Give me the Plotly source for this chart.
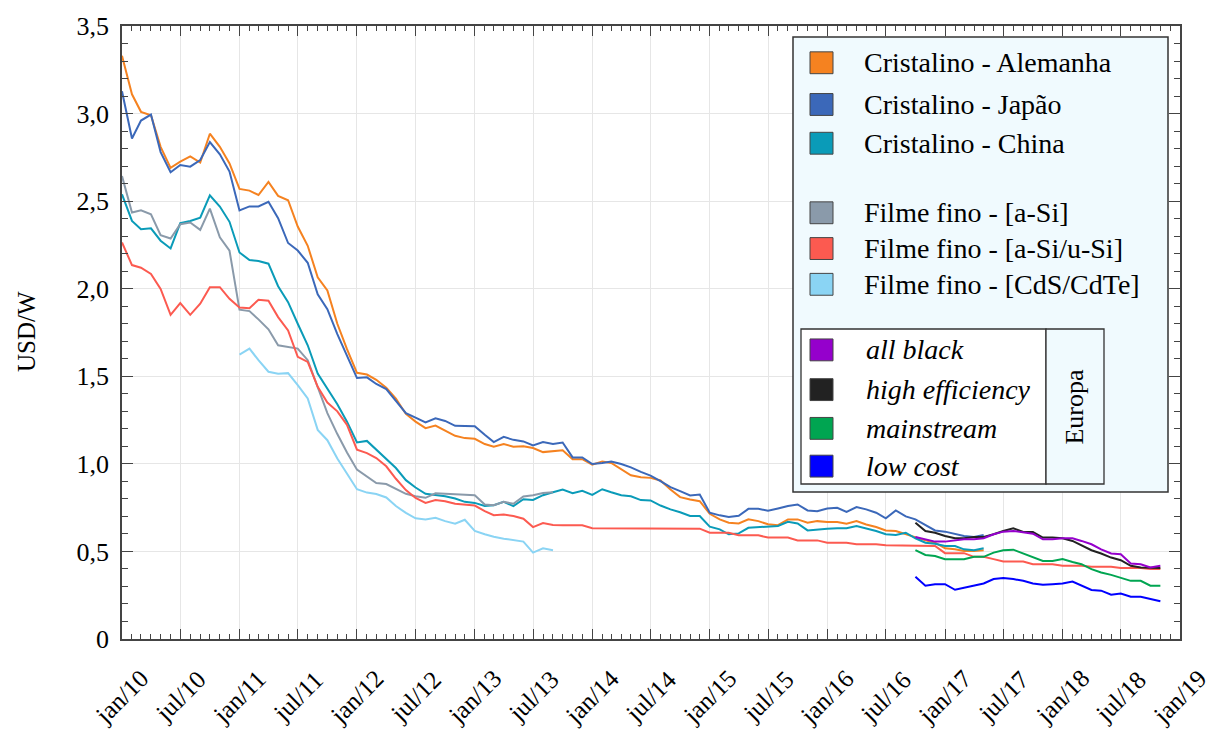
import pandas as pd
import plotly.graph_objects as go

# ---------------- data (USD/W, monthly) ----------------
start_crist = "2010-01-01"
alemanha = [3.33, 3.11, 3.01, 2.99, 2.81, 2.69, 2.725, 2.755, 2.72, 2.885, 2.81, 2.715,
            2.57, 2.56, 2.535, 2.61, 2.53, 2.505, 2.355, 2.245, 2.065, 1.99, 1.80, 1.655,
            1.52, 1.51, 1.48, 1.435, 1.372, 1.285, 1.241, 1.204, 1.219, 1.19, 1.16, 1.147,
            1.143, 1.113, 1.098, 1.113, 1.098, 1.10, 1.09, 1.067, 1.071, 1.077, 1.027, 1.027,
            0.995, 1.014, 1.005, 0.967, 0.935, 0.923, 0.92, 0.905, 0.853, 0.81, 0.796, 0.787,
            0.715, 0.683, 0.664, 0.66, 0.683, 0.673, 0.655, 0.65, 0.683, 0.683, 0.664, 0.673,
            0.668, 0.668, 0.658, 0.673, 0.654, 0.639, 0.62, 0.617, 0.598, 0.582, 0.563, 0.55,
            0.518, 0.512, 0.503, 0.503, 0.507]
japao = [3.127, 2.858, 2.96, 2.994, 2.78, 2.665, 2.706, 2.697, 2.735, 2.837, 2.767, 2.669,
         2.447, 2.47, 2.47, 2.496, 2.403, 2.261, 2.218, 2.148, 1.968, 1.883, 1.741, 1.617,
         1.49, 1.494, 1.456, 1.427, 1.362, 1.29, 1.264, 1.237, 1.26, 1.245, 1.217, 1.217,
         1.215, 1.166, 1.124, 1.154, 1.137, 1.128, 1.105, 1.124, 1.113, 1.122, 1.037, 1.037,
         0.999, 1.005, 1.014, 0.999, 0.98, 0.954, 0.933, 0.901, 0.867, 0.844, 0.82, 0.825,
         0.721, 0.706, 0.696, 0.704, 0.743, 0.743, 0.732, 0.745, 0.759, 0.768, 0.734, 0.73,
         0.745, 0.749, 0.726, 0.753, 0.74, 0.721, 0.689, 0.734, 0.70, 0.683, 0.651, 0.62,
         0.613, 0.598, 0.588, 0.582, 0.594]
china = [2.539, 2.387, 2.34, 2.345, 2.274, 2.23, 2.374, 2.387, 2.406, 2.533, 2.469, 2.382,
         2.207, 2.164, 2.158, 2.143, 2.014, 1.923, 1.80, 1.677, 1.516, 1.427, 1.34, 1.241,
         1.122, 1.131, 1.081, 1.033, 0.976, 0.907, 0.865, 0.829, 0.821, 0.815, 0.802, 0.783,
         0.777, 0.759, 0.764, 0.783, 0.759, 0.798, 0.794, 0.821, 0.838, 0.853, 0.832, 0.846,
         0.823, 0.855, 0.838, 0.821, 0.815, 0.793, 0.791, 0.762, 0.74, 0.724, 0.702, 0.702,
         0.641, 0.626, 0.598, 0.603, 0.635, 0.639, 0.64, 0.645, 0.669, 0.66, 0.62, 0.626,
         0.63, 0.632, 0.632, 0.645, 0.632, 0.617, 0.598, 0.594, 0.607, 0.575, 0.55, 0.544,
         0.531, 0.531, 0.512, 0.507, 0.518]

start_asi = "2010-01-01"
a_si = [2.643, 2.435, 2.448, 2.425, 2.306, 2.287, 2.368, 2.378, 2.336, 2.457, 2.293, 2.217,
        1.88, 1.872, 1.825, 1.768, 1.677, 1.668, 1.658, 1.592, 1.437, 1.29, 1.17, 1.065,
        0.967, 0.929, 0.891, 0.885, 0.859, 0.829, 0.815, 0.806, 0.832, 0.829, 0.829, 0.825,
        0.821, 0.768, 0.764, 0.783, 0.772, 0.814, 0.821, 0.834, 0.838]

start_asiusi = "2010-01-01"
a_si_u_si = [2.264, 2.135, 2.12, 2.084, 1.999, 1.851, 1.918, 1.851, 1.914, 2.009, 2.009, 1.942,
             1.893, 1.889, 1.937, 1.931, 1.838, 1.762, 1.611, 1.582, 1.44, 1.35, 1.30, 1.223,
             1.081, 1.061, 1.033, 0.986, 0.915, 0.85, 0.805, 0.777, 0.793, 0.787, 0.772, 0.768,
             0.762, 0.73, 0.707, 0.711, 0.702, 0.687, 0.639, 0.662, 0.651, 0.649, 0.649, 0.649,
             0.632, 0.632, 0.632, 0.632, 0.632, 0.632, 0.632, 0.632, 0.63, 0.63, 0.63, 0.63,
             0.607, 0.607, 0.607, 0.592, 0.592, 0.592, 0.579, 0.579, 0.579, 0.563, 0.563, 0.563,
             0.55, 0.55, 0.55, 0.541, 0.541, 0.541, 0.535, 0.535, 0.535, 0.531, 0.531, 0.531,
             0.49, 0.49, 0.49, 0.469, 0.469, 0.456, 0.442, 0.442, 0.442, 0.427, 0.427, 0.427,
             0.418, 0.418, 0.418, 0.412, 0.412, 0.412, 0.405, 0.405, 0.405, 0.399, 0.399]

start_cdte = "2011-01-01"
cds_cdte = [1.624, 1.658, 1.592, 1.526, 1.514, 1.518, 1.45, 1.374, 1.194, 1.135, 1.03, 0.945,
            0.855, 0.836, 0.828, 0.808, 0.759, 0.72, 0.689, 0.683, 0.692, 0.673, 0.658, 0.681,
            0.617, 0.598, 0.584, 0.573, 0.563, 0.556, 0.493, 0.518, 0.507]

start_europa = "2016-10-01"
all_black = [0.582, 0.569, 0.556, 0.556, 0.563, 0.569, 0.569, 0.575, 0.598, 0.613, 0.617, 0.607,
             0.601, 0.569, 0.569, 0.575, 0.575, 0.56, 0.541, 0.512, 0.488, 0.484, 0.431, 0.427,
             0.408, 0.418]
high_efficiency = [0.664, 0.617, 0.607, 0.588, 0.575, 0.575, 0.582, 0.582, 0.598, 0.617, 0.632, 0.611,
                   0.611, 0.579, 0.579, 0.575, 0.56, 0.535, 0.507, 0.488, 0.465, 0.45, 0.418, 0.408,
                   0.405, 0.405]
mainstream = [0.507, 0.48, 0.474, 0.456, 0.456, 0.456, 0.469, 0.469, 0.493, 0.507, 0.51, 0.488,
              0.465, 0.446, 0.446, 0.456, 0.44, 0.427, 0.399, 0.38, 0.366, 0.351, 0.332, 0.332,
              0.304, 0.304]
low_cost = [0.355, 0.304, 0.313, 0.313, 0.281, 0.291, 0.304, 0.317, 0.342, 0.348, 0.342, 0.332,
            0.317, 0.31, 0.313, 0.317, 0.328, 0.304, 0.28, 0.276, 0.253, 0.26, 0.241, 0.241,
            0.228, 0.215]

main_names = ["Cristalino - Alemanha", "Cristalino - Japão", "Cristalino - China",
              "Filme fino - [a-Si]", "Filme fino - [a-Si/u-Si]", "Filme fino - [CdS/CdTe]"]
europa_names = ["all black", "high efficiency", "mainstream", "low cost"]
europa_label = "Europa"

tick_dates = ["2010-01-01", "2010-07-01", "2011-01-01", "2011-07-01", "2012-01-01", "2012-07-01",
              "2013-01-01", "2013-07-01", "2014-01-01", "2014-07-01", "2015-01-01", "2015-07-01",
              "2016-01-01", "2016-07-01", "2017-01-01", "2017-07-01", "2018-01-01", "2018-07-01",
              "2019-01-01"]
tick_text = ["jan/10", "jul/10", "jan/11", "jul/11", "jan/12", "jul/12", "jan/13", "jul/13",
             "jan/14", "jul/14", "jan/15", "jul/15", "jan/16", "jul/16", "jan/17", "jul/17",
             "jan/18", "jul/18", "jan/19"]
y_tickvals = [0, 0.5, 1.0, 1.5, 2.0, 2.5, 3.0, 3.5]
y_ticktext = ["0", "0,5", "1,0", "1,5", "2,0", "2,5", "3,0", "3,5"]
y_title = "USD/W"

# ---------------- styling ----------------
FONT = "Liberation Serif"
main_colors = ["#F58220", "#3B68B9", "#0A9BB8", "#8A9AAA", "#FC5A50", "#8AD4F4"]
europa_colors = ["#9500CC", "#222222", "#00A551", "#0000FF"]

series = [
    (main_names[0], start_crist, alemanha, main_colors[0]),
    (main_names[1], start_crist, japao, main_colors[1]),
    (main_names[2], start_crist, china, main_colors[2]),
    (main_names[3], start_asi, a_si, main_colors[3]),
    (main_names[4], start_asiusi, a_si_u_si, main_colors[4]),
    (main_names[5], start_cdte, cds_cdte, main_colors[5]),
    (europa_names[3], start_europa, low_cost, europa_colors[3]),
    (europa_names[2], start_europa, mainstream, europa_colors[2]),
    (europa_names[1], start_europa, high_efficiency, europa_colors[1]),
    (europa_names[0], start_europa, all_black, europa_colors[0]),
]

fig = go.Figure()
for name, start, vals, color in series:
    xs = pd.date_range(start=start, periods=len(vals), freq="MS")
    fig.add_trace(go.Scatter(x=xs, y=vals, mode="lines", name=name,
                             line=dict(color=color, width=2), showlegend=False))

# plot area in pixels
W_FIG, H_FIG = 1215, 731
L, R, T, B = 122, 1180, 22, 639
PW, PH = R - L, B - T


def px(x):
    return (x - L) / PW


def py(y):
    return (B - y) / PH


AX = "#444444"
fig.update_layout(
    width=W_FIG, height=H_FIG,
    margin=dict(l=L, r=W_FIG - R, t=T, b=H_FIG - B),
    paper_bgcolor="white", plot_bgcolor="white",
    font=dict(family=FONT, size=26, color="black"),
    showlegend=False,
)
fig.update_xaxes(
    type="date", range=["2010-01-01", "2019-01-01"],
    tickvals=tick_dates, ticktext=tick_text, showticklabels=False,
    ticks="inside", ticklen=10, tickwidth=1.3, tickcolor=AX,
    minor=dict(dtick="M1", tick0="2010-01-01", ticks="inside", ticklen=5,
               tickwidth=1.1, tickcolor=AX, showgrid=False),
    showgrid=True, gridcolor="#E6E6E6", gridwidth=1,
    showline=True, linecolor=AX, linewidth=1.6, mirror="ticks", zeroline=False,
)
fig.update_yaxes(
    range=[0, 3.5], tickvals=y_tickvals, ticktext=y_ticktext,
    ticks="inside", ticklen=11, tickwidth=1.3, tickcolor=AX,
    minor=dict(dtick=0.1, tick0=0, ticks="inside", ticklen=6, tickwidth=1.1,
               tickcolor=AX, showgrid=False),
    showgrid=True, gridcolor="#E6E6E6", gridwidth=1,
    showline=True, linecolor=AX, linewidth=1.6, mirror="ticks", zeroline=False,
    tickfont=dict(family=FONT, size=26), ticklabelstandoff=6,
)

annotations = []
# rotated x tick labels centred on the tick
for d, t in zip(tick_dates, tick_text):
    annotations.append(dict(x=d, xref="x", y=py(697), yref="paper", text=t,
                            showarrow=False, textangle=-45, xanchor="center",
                            yanchor="middle", font=dict(family=FONT, size=25)))
# y axis title
annotations.append(dict(x=px(26), xref="paper", y=py(330), yref="paper", text=y_title,
                        showarrow=False, textangle=-90, xanchor="center", yanchor="middle",
                        font=dict(family=FONT, size=25)))

shapes = []
LEG_BG = "#F0FAFE"
BORDER = "#333333"
# legend outer box
shapes.append(dict(type="rect", xref="paper", yref="paper", x0=px(793), x1=px(1168),
                   y0=py(491), y1=py(33), fillcolor=LEG_BG, line=dict(color=BORDER, width=1.5),
                   layer="above"))
# inner Europa box
shapes.append(dict(type="rect", xref="paper", yref="paper", x0=px(801), x1=px(1046),
                   y0=py(483), y1=py(327), fillcolor="white", line=dict(color=BORDER, width=1.3),
                   layer="above"))
shapes.append(dict(type="rect", xref="paper", yref="paper", x0=px(1046), x1=px(1104),
                   y0=py(483), y1=py(327), fillcolor=LEG_BG, line=dict(color=BORDER, width=1.3),
                   layer="above"))

main_rows = [59, 101, 140, 210, 246, 282]
europa_rows = [348, 388, 427, 465]
for name, color, yc in zip(main_names, main_colors, main_rows):
    shapes.append(dict(type="rect", xref="paper", yref="paper", x0=px(810), x1=px(833),
                       y0=py(yc + 11), y1=py(yc - 11), fillcolor=color,
                       line=dict(color="#444444", width=1), layer="above"))
    annotations.append(dict(x=px(862), xref="paper", y=py(yc), yref="paper", text=name,
                            showarrow=False, xanchor="left", yanchor="middle",
                            font=dict(family=FONT, size=28)))
for name, color, yc in zip(europa_names, europa_colors, europa_rows):
    shapes.append(dict(type="rect", xref="paper", yref="paper", x0=px(810), x1=px(833),
                       y0=py(yc + 11), y1=py(yc - 11), fillcolor=color,
                       line=dict(color="#444444", width=1), layer="above"))
    annotations.append(dict(x=px(864), xref="paper", y=py(yc), yref="paper",
                            text="<i>" + name + "</i>",
                            showarrow=False, xanchor="left", yanchor="middle",
                            font=dict(family=FONT, size=28)))
annotations.append(dict(x=px(1075), xref="paper", y=py(405), yref="paper", text=europa_label,
                        showarrow=False, textangle=-90, xanchor="center", yanchor="middle",
                        font=dict(family=FONT, size=26)))

fig.update_layout(shapes=shapes, annotations=annotations)
fig.write_html("out.html")
